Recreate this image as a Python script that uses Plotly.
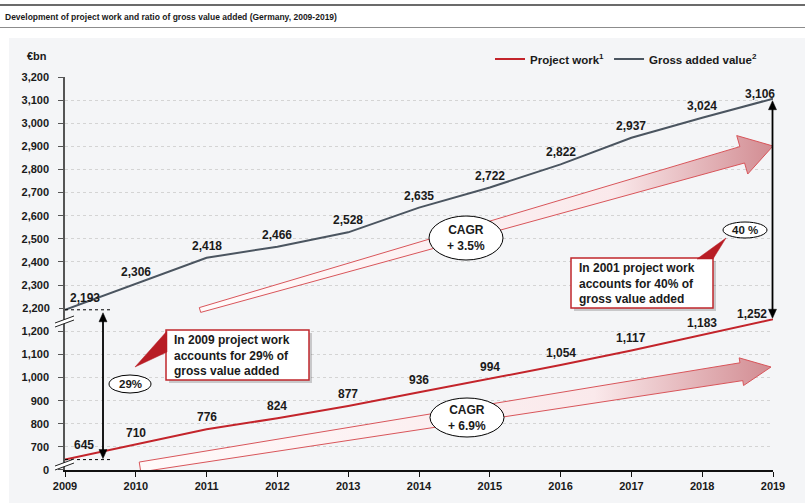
import plotly.graph_objects as go

# ---------------- data ----------------
years = list(range(2009, 2020))
project_work = [645, 710, 776, 824, 877, 936, 994, 1054, 1117, 1183, 1252]
gross_value = [2193, 2306, 2418, 2466, 2528, 2635, 2722, 2822, 2937, 3024, 3106]
lower_tickvals = [600, 700, 800, 900, 1000, 1100, 1200]
lower_ticktext = ["0", "700", "800", "900", "1,000", "1,100", "1,200"]
upper_gridvals = [2300, 2400, 2500, 2600, 2700, 2800, 2900, 3000, 3100, 3200]
cagr_gross = "CAGR<br>+ 3.5%"
cagr_project = "CAGR<br>+ 6.9%"
share_2009 = "29%"
share_2019 = "40 %"
note_2009 = "In 2009 project work<br>accounts for 29% of<br>gross value added"
note_2019 = "In 2001 project work<br>accounts for 40% of<br>gross value added"
title_text = "Development of project work and ratio of gross value added (Germany, 2009-2019)"

# ---------------- geometry ----------------
W, H = 805, 503
L, R, T, B = 65, 773, 77, 470
LOW = [600, 1255]
UP = [2155, 3200]
span = (LOW[1] - LOW[0]) + (UP[1] - UP[0])
split = (LOW[1] - LOW[0]) / span
ppu = (B - T) / span

def px_x(px): return (px - L) / (R - L)
def px_y(py): return (B - py) / (B - T)
def yr(px): return 2009 + (px - L) / (R - L) * 10
def x_px(year): return L + (year - 2009) / 10 * (R - L)
def low_v(py): return LOW[0] + (B - py) / ppu
def up_v(py): return UP[1] - (py - T) / ppu
def py_low(v): return B - (v - LOW[0]) * ppu
def py_up(v): return T + (UP[1] - v) * ppu

FONT = "Liberation Sans, Arial, sans-serif"
RED = "#c3242b"
GREY = "#4b5560"
TXT = "#1a1a1a"

def arrow_poly(tail, tip, w0, w1, hw, hl):
    import math
    dx, dy = tip[0] - tail[0], tip[1] - tail[1]
    ln = math.hypot(dx, dy)
    ux, uy = dx / ln, dy / ln
    nx, ny = -uy, ux
    bx, by = tip[0] - ux * hl, tip[1] - uy * hl
    pts = [
        (tail[0] + nx * w0, tail[1] + ny * w0),
        (bx + nx * w1, by + ny * w1),
        (bx + nx * hw, by + ny * hw),
        tip,
        (bx - nx * hw, by - ny * hw),
        (bx - nx * w1, by - ny * w1),
        (tail[0] - nx * w0, tail[1] - ny * w0),
    ]
    pts.append(pts[0])
    return pts

fig = go.Figure()

grad = [[0, "rgba(255,250,250,1)"], [0.72, "rgba(250,233,235,1)"], [1, "rgba(210,140,146,1)"]]

# CAGR arrows (decorative)
up_pts = arrow_poly((200, 310), (773, 146), 2.5, 8.5, 20, 32)
fig.add_trace(go.Scatter(
    x=[yr(p[0]) for p in up_pts], y=[up_v(p[1]) for p in up_pts],
    xaxis="x", yaxis="y2", mode="lines", fill="toself",
    fillgradient=dict(type="horizontal", colorscale=grad),
    line=dict(color="#d8555a", width=1), hoverinfo="skip", showlegend=False))
lo_pts = arrow_poly((140, 467), (771, 367), 5, 9, 14, 30)
fig.add_trace(go.Scatter(
    x=[yr(p[0]) for p in lo_pts], y=[low_v(p[1]) for p in lo_pts],
    xaxis="x", yaxis="y", mode="lines", fill="toself",
    fillgradient=dict(type="horizontal", colorscale=grad),
    line=dict(color="#d8555a", width=1), hoverinfo="skip", showlegend=False))

# data lines
fig.add_trace(go.Scatter(x=years, y=project_work, xaxis="x", yaxis="y", mode="lines",
                         name="<b>Project work</b><sup><b>1</b></sup>",
                         line=dict(color=RED, width=2)))
fig.add_trace(go.Scatter(x=years, y=gross_value, xaxis="x", yaxis="y2", mode="lines",
                         name="<b>Gross added value</b><sup><b>2</b></sup>",
                         line=dict(color=GREY, width=2)))
# dummy for overlay axis carrying the 2,200 label
fig.add_trace(go.Scatter(x=[2009], y=[2200], xaxis="x", yaxis="y3", mode="markers",
                         marker=dict(opacity=0), hoverinfo="skip", showlegend=False))

annotations = []
# data labels
n = len(years)
for i, (yv, v) in enumerate(zip(years, project_work)):
    xs, ys = 0, 12
    if i == 0:
        xs, ys = 19, 15
    if i == n - 1:
        xs, ys = -21, 5
    annotations.append(dict(x=yv, y=v, xref="x", yref="y", text=f"<b>{v:,}</b>",
                            showarrow=False, xshift=xs, yshift=ys,
                            font=dict(size=12, color=TXT)))
for i, (yv, v) in enumerate(zip(years, gross_value)):
    xs, ys = 0, 12
    if i == 0:
        xs, ys = 20, 12
    if i == n - 1:
        xs, ys = -13, 5
    annotations.append(dict(x=yv, y=v, xref="x", yref="y2", text=f"<b>{v:,}</b>",
                            showarrow=False, xshift=xs, yshift=ys,
                            font=dict(size=12, color=TXT)))

shapes = []
# grey panel background
shapes.append(dict(type="rect", xref="paper", yref="paper", x0=px_x(9), x1=px_x(805),
                   y0=px_y(503), y1=px_y(38), fillcolor="#f4f5f7", line=dict(width=0), layer="below"))
# title rules
shapes.append(dict(type="line", xref="paper", yref="paper", x0=px_x(0), x1=px_x(805),
                   y0=px_y(5), y1=px_y(5), line=dict(color="#3a3a3a", width=1.5)))
shapes.append(dict(type="line", xref="paper", yref="paper", x0=px_x(0), x1=px_x(805),
                   y0=px_y(27.5), y1=px_y(27.5), line=dict(color="#8c8c8c", width=1)))
# dotted reference lines
shapes.append(dict(type="line", xref="x", yref="y2", x0=2009, x1=yr(110),
                   y0=gross_value[0], y1=gross_value[0], line=dict(color="#000", width=1, dash="dot")))
shapes.append(dict(type="line", xref="x", yref="y", x0=2009, x1=yr(110),
                   y0=project_work[0], y1=project_work[0], line=dict(color="#000", width=1, dash="dot")))

# double-headed vertical share arrows (from upper-axis value to lower-axis value)
def dbl_arrow(xp, top_py, bot_py, hl=9, hw=4):
    pth = lambda pts: "M " + " L ".join(f"{px_x(a):.5f},{px_y(b):.5f}" for a, b in pts) + " Z"
    return [
        dict(type="line", xref="paper", yref="paper", x0=px_x(xp), x1=px_x(xp),
             y0=px_y(top_py + hl - 1), y1=px_y(bot_py - hl + 1), line=dict(color="#000", width=1.8)),
        dict(type="path", xref="paper", yref="paper",
             path=pth([(xp, top_py), (xp - hw, top_py + hl), (xp + hw, top_py + hl)]),
             fillcolor="#000", line=dict(color="#000", width=0.5)),
        dict(type="path", xref="paper", yref="paper",
             path=pth([(xp, bot_py), (xp - hw, bot_py - hl), (xp + hw, bot_py - hl)]),
             fillcolor="#000", line=dict(color="#000", width=0.5)),
    ]

shapes += dbl_arrow(103, py_up(gross_value[0]) + 3, py_low(project_work[0]) - 1)
shapes += dbl_arrow(x_px(2019) - 0.5, py_up(gross_value[-1]) + 2, py_low(project_work[-1]) - 1)

def ellipse(x0, x1, y0, y1):
    return dict(type="circle", xref="paper", yref="paper", x0=px_x(x0), x1=px_x(x1),
                y0=px_y(y1), y1=px_y(y0), fillcolor="white", line=dict(color="#000", width=1))

shapes.append(ellipse(429, 503, 216, 260))
shapes.append(ellipse(430, 504, 398, 437))
shapes.append(ellipse(109, 151, 375, 393))
shapes.append(ellipse(723, 767, 222, 238))

def box(x0, x1, y0, y1):
    return [
        dict(type="rect", xref="paper", yref="paper", x0=px_x(x0 + 3), x1=px_x(x1 + 3),
             y0=px_y(y1 + 3), y1=px_y(y0 + 3), fillcolor="rgba(0,0,0,0.18)", line=dict(width=0)),
        dict(type="rect", xref="paper", yref="paper", x0=px_x(x0), x1=px_x(x1),
             y0=px_y(y1), y1=px_y(y0), fillcolor="white", line=dict(color="#c0272d", width=1.5)),
    ]

def tri(pts):
    path = "M " + " L ".join(f"{px_x(a):.5f},{px_y(b):.5f}" for a, b in pts) + " Z"
    return dict(type="path", xref="paper", yref="paper", path=path,
                fillcolor="#b81d25", line=dict(color="#b81d25", width=0.5))

shapes += box(166, 309, 330, 380)
shapes.append(tri([(167, 331), (167, 352), (135, 367)]))
shapes += box(571, 713, 258, 308)
shapes.append(tri([(697, 259), (713, 259), (726, 238)]))

# axis break marks
def brk(yc):
    return [
        dict(type="path", xref="paper", yref="paper",
             path=(f"M {px_x(55):.5f},{px_y(yc + 2):.5f} L {px_x(74):.5f},{px_y(yc - 5):.5f} "
                   f"L {px_x(74):.5f},{px_y(yc - 1):.5f} L {px_x(55):.5f},{px_y(yc + 6):.5f} Z"),
             fillcolor="white", line=dict(width=0)),
        dict(type="line", xref="paper", yref="paper", x0=px_x(55), x1=px_x(74),
             y0=px_y(yc + 2), y1=px_y(yc - 5), line=dict(color="#222", width=1)),
        dict(type="line", xref="paper", yref="paper", x0=px_x(55), x1=px_x(74),
             y0=px_y(yc + 6), y1=px_y(yc - 1), line=dict(color="#222", width=1)),
    ]

shapes += brk(321)
shapes += brk(464)

# texts
def ptext(x, y, text, size=12, xanchor="center", align="center", family=FONT):
    annotations.append(dict(x=px_x(x), y=px_y(y), xref="paper", yref="paper", text=text,
                            showarrow=False, xanchor=xanchor, yanchor="middle", align=align,
                            font=dict(size=size, color=TXT, family=family)))

ptext(466, 238, f"<b>{cagr_gross}</b>")
ptext(467, 418, f"<b>{cagr_project}</b>")
ptext(130, 384, f"<b>{share_2009}</b>", size=11.5)
ptext(745, 230, f"<b>{share_2019}</b>", size=11.5)
ptext(172, 355, f"<b>{note_2009}</b>", xanchor="left", align="left")
ptext(577, 283, f"<b>{note_2019}</b>", xanchor="left", align="left")
ptext(37, 56, "<b>€bn</b>", size=11)
ptext(3, 17, f"<b>{title_text}</b>", size=8.5, xanchor="left", align="left")

tickfont = dict(size=11, color=TXT, family=FONT, weight="bold")

fig.update_layout(
    width=W, height=H,
    margin=dict(l=L, r=W - R, t=T, b=H - B, pad=0),
    paper_bgcolor="white", plot_bgcolor="white",
    font=dict(family=FONT, color=TXT),
    showlegend=True,
    legend=dict(orientation="h", x=px_x(762), xanchor="right", y=px_y(59), yanchor="middle",
                font=dict(size=11.5, color=TXT), bgcolor="rgba(0,0,0,0)", itemwidth=30,
                traceorder="normal"),
    xaxis=dict(domain=[0, 1], range=[2009, 2019], anchor="y", tickvals=years,
               showline=True, linecolor="#111", linewidth=1.5, ticks="outside", ticklen=5,
               tickcolor="#111", tickwidth=1.2, showgrid=False, zeroline=False, tickfont=tickfont),
    yaxis=dict(domain=[0, split], range=LOW, anchor="x", tickvals=lower_tickvals,
               ticktext=lower_ticktext, showline=True, linecolor="#555", linewidth=1.5,
               ticks="outside", ticklen=5, tickcolor="#555", ticklabelstandoff=7,
               showgrid=True, gridcolor="#d4d4d4", griddash="3px,3px", gridwidth=1,
               zeroline=False, tickfont=tickfont),
    yaxis2=dict(domain=[split, 1], range=UP, anchor="x", tickvals=upper_gridvals,
                tickformat=",d", showline=True, linecolor="#555", linewidth=1.5,
                ticks="outside", ticklen=5, tickcolor="#555", ticklabelstandoff=7,
                showgrid=True, gridcolor="#d4d4d4", griddash="3px,3px", gridwidth=1,
                zeroline=False, tickfont=tickfont),
    yaxis3=dict(overlaying="y2", range=UP, anchor="x", side="left", tickvals=[2200],
                tickformat=",d", showline=False, ticks="outside", ticklen=5, tickcolor="#555",
                ticklabelstandoff=7, showgrid=False, zeroline=False, tickfont=tickfont),
    annotations=annotations,
    shapes=shapes,
)

fig.write_html("out.html", config={"displayModeBar": False},
               post_script="document.body.style.margin='0';document.body.style.overflow='hidden';")
